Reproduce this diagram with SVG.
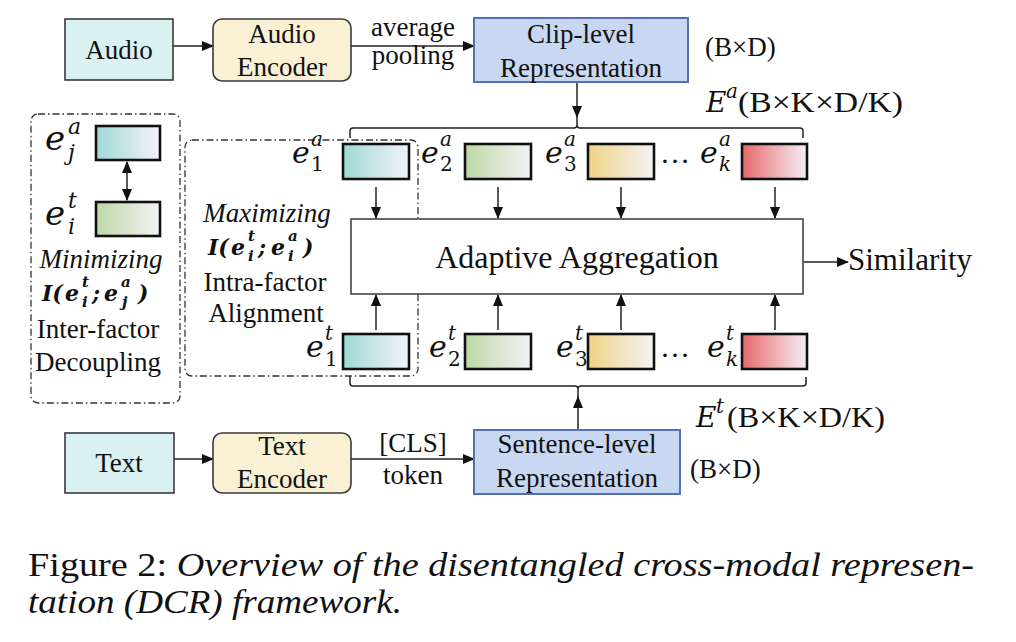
<svg xmlns="http://www.w3.org/2000/svg" width="1016" height="642" viewBox="0 0 1016 642">
<style>
.t{font-family:"Liberation Serif","Times New Roman",serif;font-size:27px;fill:#111}
.tc{text-anchor:middle}
.it{font-style:italic}
.m{font-family:"DejaVu Serif",serif;font-style:italic;font-size:30px;fill:#111}
.ms{font-family:"DejaVu Serif",serif;font-style:italic;font-size:20px;fill:#111}
.md{font-family:"DejaVu Serif",serif;font-size:20px;fill:#111}
.mb{font-family:"DejaVu Serif",serif;font-style:italic;font-weight:bold;font-size:22px;fill:#111}
.mbs{font-family:"DejaVu Serif",serif;font-style:italic;font-weight:bold;font-size:15px;fill:#111}
.src{fill:#d9f1f0;stroke:#3a3a3a;stroke-width:1.6}
.enc{fill:#faf0d4;stroke:#3a3a3a;stroke-width:1.6}
.rep{fill:#c9d8f2;stroke:#5570b5;stroke-width:2}
.fac{stroke:#111;stroke-width:2.6}
.agg{fill:#fff;stroke:#444;stroke-width:1.6}
.dd{fill:none;stroke:#333;stroke-width:1.3;stroke-dasharray:7 3 1.5 3}
.ln{fill:none;stroke:#222;stroke-width:1.5}
.ar{fill:none;stroke:#222;stroke-width:1.5;marker-end:url(#ah)}
</style>
<defs>
<marker id="ah" markerWidth="12" markerHeight="10" refX="11" refY="5" orient="auto-start-reverse" markerUnits="userSpaceOnUse">
<path d="M0,0 L12,5 L0,10 z" fill="#111"/>
</marker>
<linearGradient id="gTeal" x1="0" x2="1" y1="0" y2="0"><stop offset="0" stop-color="#9fd8d5"/><stop offset="1" stop-color="#f3f3f8"/></linearGradient>
<linearGradient id="gGreen" x1="0" x2="1" y1="0" y2="0"><stop offset="0" stop-color="#bfd8a6"/><stop offset="1" stop-color="#f3f3f6"/></linearGradient>
<linearGradient id="gYellow" x1="0" x2="1" y1="0" y2="0"><stop offset="0" stop-color="#efd385"/><stop offset="1" stop-color="#f4f3f4"/></linearGradient>
<linearGradient id="gRed" x1="0" x2="1" y1="0" y2="0"><stop offset="0" stop-color="#e7686a"/><stop offset="1" stop-color="#f4f0f6"/></linearGradient>
</defs>
<rect width="1016" height="642" fill="#fff"/>

<g id="group-decoupling">
<rect class="dd" x="31" y="114" width="149" height="289" rx="7"/>
</g>
<g id="group-alignment">
<rect class="dd" x="185" y="140" width="233" height="236" rx="7"/>
</g>

<g id="connectors">
<line class="ar" x1="173" y1="46" x2="213" y2="46"/>
<line class="ar" x1="351" y1="46" x2="474" y2="46"/>
<line class="ar" x1="577" y1="82" x2="577" y2="117"/>
<path class="ln" d="M350,138 V131 Q350,128 353,128 H574 Q577,128 577,125 V117 M577,125 Q577,128 580,128 H800 Q803,128 803,131 V138"/>
<line class="ar" x1="376" y1="187" x2="376" y2="218"/>
<line class="ar" x1="498" y1="187" x2="498" y2="218"/>
<line class="ar" x1="621" y1="187" x2="621" y2="218"/>
<line class="ar" x1="775" y1="187" x2="775" y2="218"/>
<line class="ar" x1="376" y1="330" x2="376" y2="295"/>
<line class="ar" x1="498" y1="330" x2="498" y2="295"/>
<line class="ar" x1="621" y1="330" x2="621" y2="295"/>
<line class="ar" x1="775" y1="330" x2="775" y2="295"/>
<line class="ar" x1="803" y1="262" x2="848" y2="262"/>
<path class="ln" d="M350,376 V383 Q350,386 353,386 H575 Q578,386 578,389 V397 M578,389 Q578,386 581,386 H803 Q806,386 806,383 V377"/>
<line class="ar" x1="578" y1="430" x2="578" y2="397"/>
<line class="ar" x1="174" y1="459" x2="213" y2="459"/>
<line class="ar" x1="351" y1="459" x2="474" y2="459"/>
<line class="ln" x1="127" y1="162" x2="127" y2="200" marker-start="url(#ah)" marker-end="url(#ah)"/>
<text class="t tc" x="413" y="36">average</text>
<text class="t tc" x="413" y="64">pooling</text>
<text class="t tc" x="413" y="452">[CLS]</text>
<text class="t tc" x="413" y="484">token</text>
<text class="t" x="848" y="270" style="font-size:31px">Similarity</text>
</g>

<g id="audio">
<rect class="src" x="65" y="19" width="108" height="61"/>
<text class="t tc" x="119" y="59">Audio</text>
</g>
<g id="audio-encoder">
<rect class="enc" x="213" y="19" width="138" height="62" rx="9"/>
<text class="t tc" x="282" y="43">Audio</text>
<text class="t tc" x="282" y="76">Encoder</text>
</g>
<g id="clip-rep">
<rect class="rep" x="474" y="18" width="214" height="64"/>
<text class="t tc" x="581" y="43">Clip-level</text>
<text class="t tc" x="581" y="77">Representation</text>
<text class="t" x="705" y="56">(B×D)</text>
</g>
<g id="Ea-label">
<text class="m" x="706" y="112" style="font-size:28px">E</text>
<text class="ms" x="726" y="98">a</text>
<text class="t" x="738" y="112" style="font-size:30px" textLength="165" lengthAdjust="spacingAndGlyphs">(B×K×D/K)</text>
</g>

<g id="text">
<rect class="src" x="65" y="433" width="109" height="60"/>
<text class="t tc" x="119" y="472">Text</text>
</g>
<g id="text-encoder">
<rect class="enc" x="213" y="433" width="138" height="60" rx="9"/>
<text class="t tc" x="282" y="455">Text</text>
<text class="t tc" x="282" y="488">Encoder</text>
</g>
<g id="sentence-rep">
<rect class="rep" x="474" y="430" width="206" height="64"/>
<text class="t tc" x="577" y="453">Sentence-level</text>
<text class="t tc" x="577" y="487">Representation</text>
<text class="t" x="690" y="478">(B×D)</text>
</g>
<g id="Et-label">
<text class="m" x="696" y="427" style="font-size:28px">E</text>
<text class="ms" x="716" y="413">t</text>
<text class="t" x="727" y="427" style="font-size:30px" textLength="158" lengthAdjust="spacingAndGlyphs">(B×K×D/K)</text>
</g>

<g id="adaptive-aggregation">
<rect class="agg" x="351" y="219" width="452" height="75"/>
<text class="t tc" x="577" y="268" style="font-size:32px">Adaptive Aggregation</text>
</g>

<g id="audio-factors">
<rect class="fac" x="343" y="144" width="66" height="35" fill="url(#gTeal)"/>
<rect class="fac" x="465" y="144" width="66" height="35" fill="url(#gGreen)"/>
<rect class="fac" x="588" y="144" width="66" height="35" fill="url(#gYellow)"/>
<rect class="fac" x="742" y="144" width="65" height="35" fill="url(#gRed)"/>
<text class="m" x="292" y="163">e</text><text class="ms" x="311" y="146">a</text><text class="md" x="311" y="171">1</text>
<text class="m" x="421" y="163">e</text><text class="ms" x="440" y="146">a</text><text class="md" x="440" y="171">2</text>
<text class="m" x="545" y="163">e</text><text class="ms" x="564" y="146">a</text><text class="md" x="564" y="171">3</text>
<text class="t" x="660" y="163" style="font-size:30px">…</text>
<text class="m" x="700" y="163">e</text><text class="ms" x="719" y="146">a</text><text class="ms" x="719" y="171">k</text>
</g>

<g id="text-factors">
<rect class="fac" x="343" y="334" width="66" height="35" fill="url(#gTeal)"/>
<rect class="fac" x="465" y="334" width="66" height="35" fill="url(#gGreen)"/>
<rect class="fac" x="588" y="334" width="66" height="35" fill="url(#gYellow)"/>
<rect class="fac" x="742" y="334" width="65" height="35" fill="url(#gRed)"/>
<text class="m" x="306" y="357">e</text><text class="ms" x="325" y="340">t</text><text class="md" x="325" y="366">1</text>
<text class="m" x="429" y="357">e</text><text class="ms" x="448" y="340">t</text><text class="md" x="448" y="366">2</text>
<text class="m" x="556" y="357">e</text><text class="ms" x="575" y="340">t</text><text class="md" x="575" y="366">3</text>
<text class="t" x="660" y="357" style="font-size:30px">…</text>
<text class="m" x="707" y="357">e</text><text class="ms" x="726" y="340">t</text><text class="ms" x="726" y="366">k</text>
</g>

<g id="decoupling-content">
<rect class="fac" x="96" y="126" width="64" height="34" fill="url(#gTeal)"/>
<rect class="fac" x="96" y="202" width="64" height="34" fill="url(#gGreen)"/>
<text class="m" x="45" y="150" style="font-size:34px">e</text><text class="ms" x="68" y="134" style="font-size:22px">a</text><text class="ms" x="68" y="160" style="font-size:22px">j</text>
<text class="m" x="45" y="225" style="font-size:34px">e</text><text class="ms" x="68" y="208" style="font-size:22px">t</text><text class="ms" x="68" y="234" style="font-size:22px">i</text>
<text class="t tc it" x="101" y="268">Minimizing</text>
<text class="mb" x="42" y="301">I(</text>
<text class="mb" x="65" y="301">e</text><text class="mbs" x="82" y="287">t</text><text class="mbs" x="82" y="307">i</text>
<text class="mb" x="92" y="301">;</text>
<text class="mb" x="104" y="301">e</text><text class="mbs" x="121" y="287">a</text><text class="mbs" x="122" y="307">j</text>
<text class="mb" x="138" y="301">)</text>
<text class="t tc" x="98" y="338">Inter-factor</text>
<text class="t tc" x="98" y="371">Decoupling</text>
</g>

<g id="alignment-content">
<text class="t tc it" x="267" y="222">Maximizing</text>
<text class="mb" x="208" y="255">I(</text>
<text class="mb" x="231" y="255">e</text><text class="mbs" x="248" y="241">t</text><text class="mbs" x="248" y="261">i</text>
<text class="mb" x="258" y="255">;</text>
<text class="mb" x="271" y="255">e</text><text class="mbs" x="288" y="241">a</text><text class="mbs" x="288" y="261">i</text>
<text class="mb" x="303" y="255">)</text>
<text class="t tc" x="265" y="291">Intra-factor</text>
<text class="t tc" x="266" y="322">Alignment</text>
</g>

<g id="caption">
<text class="t" x="28" y="576" style="font-size:33px" textLength="946" lengthAdjust="spacingAndGlyphs">Figure 2: <tspan class="it">Overview of the disentangled cross-modal represen-</tspan></text>
<text class="t it" x="28" y="613" style="font-size:33px" textLength="374" lengthAdjust="spacingAndGlyphs">tation (DCR) framework.</text>
</g>
</svg>
